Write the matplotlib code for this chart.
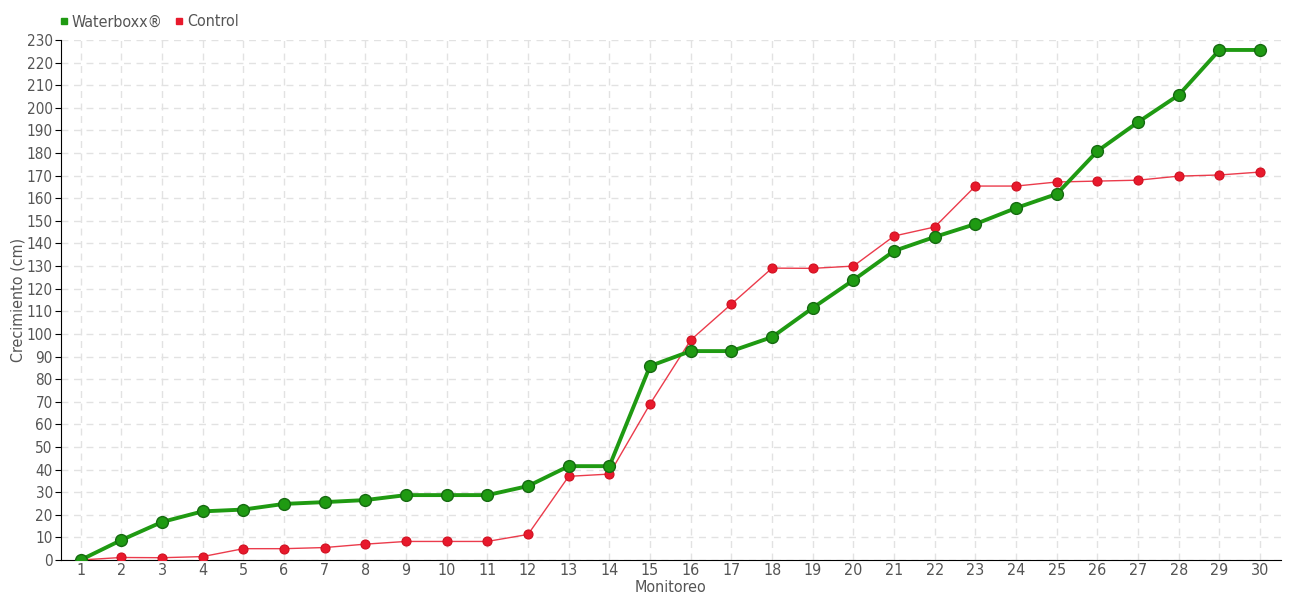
import matplotlib.pyplot as plt
from matplotlib.lines import Line2D

plt.rcParams['font.family'] = ['DejaVu Sans']
plt.rcParams['font.stretch'] = 'condensed'

# Datos
monitoreo = list(range(1, 31))
waterboxx = [0, 8.8, 16.8, 21.5, 22.3, 24.8, 25.6, 26.5, 28.7, 28.7,
             28.7, 32.7, 41.5, 41.5, 85.8, 92.4, 92.4, 98.6, 111.5, 123.8,
             136.7, 142.9, 148.6, 155.7, 161.9, 180.9, 193.7, 205.7, 225.6, 225.6]
control = [0, 1.1, 1.0, 1.5, 5.0, 5.0, 5.5, 7.0, 8.2, 8.2,
           8.2, 11.3, 37.0, 38.0, 69.0, 97.3, 113.2, 129.1, 129.0, 130.0,
           143.3, 147.3, 165.4, 165.4, 167.2, 167.6, 168.0, 169.8, 170.3, 171.6]
y_ticks = list(range(0, 231, 10))

verde = '#1f9a12'
rojo = '#e8192c'
gris = '#555555'

fig = plt.figure(figsize=(13, 6), dpi=100)
ax = fig.add_axes([0.047, 0.0667, 0.938, 0.8666])

ax.plot(monitoreo, control, color=rojo, lw=1.0, alpha=0.85, zorder=3)
ax.plot(monitoreo, control, 'o', color=rojo, ms=6.5, mec='#d01020', mew=0.8, zorder=4, lw=0)
ax.plot(monitoreo, waterboxx, color=verde, lw=2.8, zorder=5)
ax.plot(monitoreo, waterboxx, 'o', color=verde, ms=8.5, mec='#156a10', mew=1.0, zorder=6, lw=0)

ax.set_xlim(0.52, 30.5)
ax.set_ylim(0, 230)
ax.set_xticks(monitoreo)
ax.set_yticks(y_ticks)
ax.grid(True, color='#e2e2e2', linestyle=(0, (5, 4)), lw=1)
ax.set_axisbelow(True)

for s in ['top', 'right']:
    ax.spines[s].set_visible(False)
ax.spines['left'].set_color('black')
ax.spines['bottom'].set_color('black')
ax.tick_params(axis='y', length=4, labelsize=11, colors=gris, pad=2)
ax.tick_params(axis='x', length=0, labelsize=11.5, colors=gris, pad=2)
ax.tick_params(axis='both', color='black')

ax.set_xlabel('Monitoreo', fontsize=11.5, color=gris)
ax.xaxis.set_label_coords(0.5, -0.038)
ax.set_ylabel('Crecimiento (cm)', fontsize=11.5, color=gris)
ax.yaxis.set_label_coords(-0.029, 0.5)

handles = [Line2D([], [], marker='s', color=verde, ls='', ms=4.5),
           Line2D([], [], marker='s', color=rojo, ls='', ms=4.5)]
fig.legend(handles, ['Waterboxx®', 'Control'], loc='upper left',
           bbox_to_anchor=(0.032, 1.0), ncol=2, frameon=False,
           fontsize=11.5, labelcolor=gris, handletextpad=0.0,
           columnspacing=0.5, handlelength=1.0)

fig.savefig('out.png', dpi=100)
